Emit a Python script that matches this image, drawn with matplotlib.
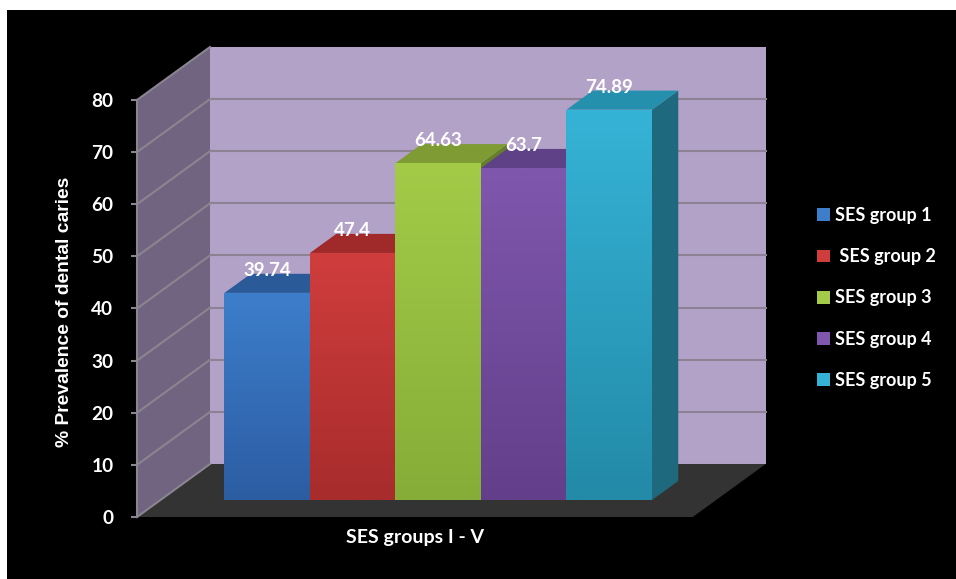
import numpy as np
import matplotlib.pyplot as plt
from matplotlib.patches import Polygon, Rectangle, Patch
from matplotlib.colors import to_rgb

plt.rcParams['font.family'] = ['Lato', 'DejaVu Sans']
plt.rcParams['font.weight'] = 'bold'

groups = ['SES group 1', ' SES group 2', 'SES group 3', 'SES group 4', 'SES group 5']
prevalence = [39.74, 47.4, 64.63, 63.7, 74.89]
value_labels = ['39.74', '47.4', '64.63', '63.7', '74.89']
yticks = [0, 10, 20, 30, 40, 50, 60, 70, 80]

# face colours per bar: front (upper, lower), top, right side
front_hi = ['#3d7ecb', '#d03d3d', '#a3cb48', '#7f57ad', '#35b3d6']
front_lo = ['#2c5da3', '#a82c2c', '#86ad37', '#633f8b', '#238aa8']
top_col = ['#2a5a98', '#a02a2a', '#7e9c33', '#5e4186', '#2590ae']
side_col = ['#234b80', '#7c2222', '#657f2a', '#4b346b', '#1e697d']

# layout of the box, in bar-width units along x and value units along y
GAP = 0.75
FLOOR_W = 2 * GAP + len(prevalence)
DX, DY = 0.854, 10.17      # shift for full depth
D0, D1 = 0.32, 0.68        # depth range occupied by the bars
YMAX = 80


def proj(x, v, d):
    return (x + d * DX, v + d * DY)


def shaded(ax, verts, c_hi, c_lo, z):
    poly = Polygon(verts, closed=True, fc='none', ec='none', zorder=z)
    ax.add_patch(poly)
    xs, ys = zip(*verts)
    t = np.linspace(0, 1, 64)[:, None, None]
    img = (1 - t) * np.array(to_rgb(c_lo)) + t * np.array(to_rgb(c_hi))
    im = ax.imshow(img, extent=(min(xs), max(xs), min(ys), max(ys)),
                   origin='lower', aspect='auto', interpolation='bilinear', zorder=z)
    im.set_clip_path(poly)


fig = plt.figure(figsize=(9.56, 5.79), dpi=100)
fig.patch.set_facecolor('white')
fig.add_artist(Rectangle((7 / 956, 0), 1, 1 - 10 / 579, transform=fig.transFigure,
                         fc='black', ec='none', zorder=-10))

ax = fig.add_axes([0, 0, 1, 1])
ax.patch.set_visible(False)

# walls and floor
grid_c = '#8a8590'
ax.add_patch(Polygon([proj(0, 0, 0), proj(0, YMAX, 0), proj(0, YMAX, 1), proj(0, 0, 1)],
                     fc='#706481', ec='none', zorder=1))
ax.add_patch(Polygon([proj(0, 0, 1), proj(FLOOR_W, 0, 1), proj(FLOOR_W, YMAX, 1), proj(0, YMAX, 1)],
                     fc='#b3a2c8', ec='none', zorder=1))
ax.add_patch(Polygon([proj(0, 0, 0), proj(FLOOR_W, 0, 0), proj(FLOOR_W, 0, 1), proj(0, 0, 1)],
                     fc='#333333', ec='none', zorder=1))
for v in yticks:
    side = [proj(0, v, 0), proj(0, v, 1)]
    back = [proj(0, v, 1), proj(FLOOR_W, v, 1)]
    ax.plot(*zip(*side), color=grid_c, lw=1.5, zorder=1.5)
    if 0 < v < YMAX:
        ax.plot(*zip(*back), color='#8c8294', lw=1.5, zorder=1.5)

# bars, left to right so each front face covers its neighbour's side
for i, v in enumerate(prevalence):
    x0 = GAP + i
    x1 = x0 + 1
    z = 3 + i
    ax.add_patch(Polygon([proj(x1, 0, D0), proj(x1, v, D0), proj(x1, v, D1), proj(x1, 0, D1)],
                         fc=side_col[i], ec='none', zorder=z))
    ax.add_patch(Polygon([proj(x0, v, D0), proj(x1, v, D0), proj(x1, v, D1), proj(x0, v, D1)],
                         fc=top_col[i], ec='none', zorder=z))
    shaded(ax, [proj(x0, 0, D0), proj(x1, 0, D0), proj(x1, v, D0), proj(x0, v, D0)],
           front_hi[i], front_lo[i], z)
    cx, cy = proj(x0 + 0.5, v, D1)
    ax.text(cx - (D1 - D0) * DX, cy + 0.6, value_labels[i], color='white', fontsize=13.5,
            ha='center', va='center', zorder=10)

# value axis on the front left edge
for s in ['top', 'right', 'bottom']:
    ax.spines[s].set_visible(False)
ax.spines['left'].set_position(('data', 0))
ax.spines['left'].set_bounds(0, YMAX)
ax.spines['left'].set_color(grid_c)
ax.spines['left'].set_linewidth(1.5)
ax.set_yticks(yticks)
ax.set_xticks([])
ax.tick_params(axis='y', direction='out', length=4, width=1.5, color=grid_c,
               labelcolor='white', labelsize=13.7, pad=13)

ax.set_xlim(-137 / 85.5, (956 - 137) / 85.5)
ax.set_ylim(-(579 - 517) / 5.2125, 517 / 5.2125)

fig.text(65 / 956, 1 - 312 / 579, '% Prevalence of dental caries', rotation=90,
         color='white', fontsize=13.9, fontfamily='Liberation Sans', fontweight='bold',
         ha='center', va='center')
fig.text(415 / 956, 1 - 537 / 579, 'SES groups I - V', color='white', fontsize=14,
         ha='center', va='center')

handles = [Patch(facecolor=front_hi[i], edgecolor='none') for i in range(len(groups))]
leg = fig.legend(handles, groups, loc='center left', bbox_to_anchor=(801 / 956, 1 - 298 / 579),
                 frameon=False, fontsize=13, labelcolor='white', handlelength=0.7,
                 handleheight=0.7, handletextpad=0.3, labelspacing=1.34)

fig.savefig('out.png', dpi=100, facecolor=fig.get_facecolor())
